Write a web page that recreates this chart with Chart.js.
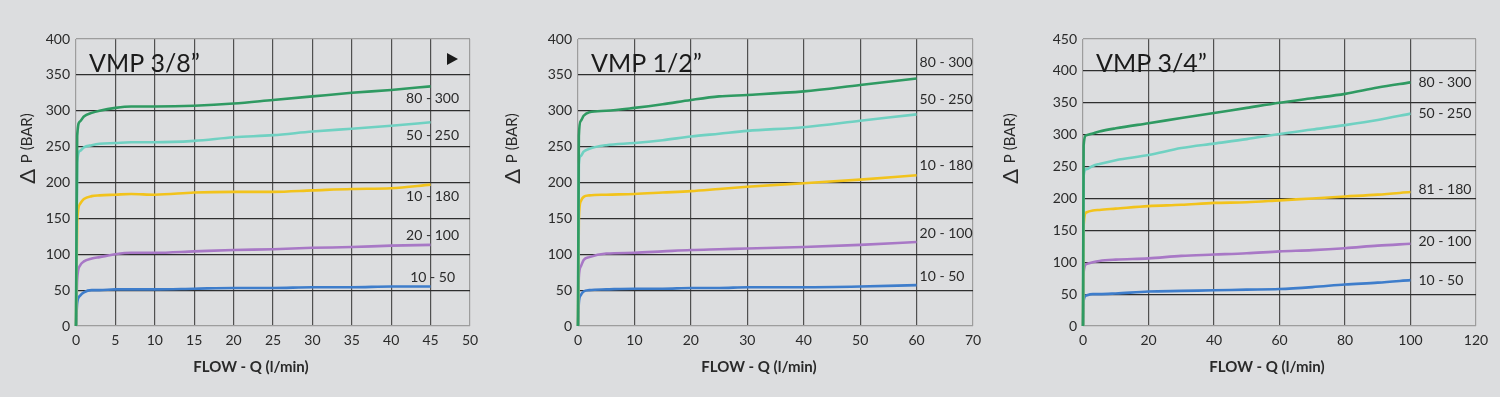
<!DOCTYPE html>
<html>
<head>
<meta charset="utf-8">
<script src="https://cdn.jsdelivr.net/npm/chart.js@4.4.1/dist/chart.umd.min.js"></script>
<style>
  html, body { margin: 0; padding: 0; background: #dcdddf; }
  #wrap { position: relative; width: 1500px; height: 397px; }
  .box { position: absolute; top: 0; width: 500px; height: 397px; }
</style>
</head>
<body>
<div id="wrap">
  <div class="box" style="left:0"><canvas id="c38"></canvas></div>
  <div class="box" style="left:500px"><canvas id="c12"></canvas></div>
  <div class="box" style="left:1000px"><canvas id="c34"></canvas></div>
</div>
<script>
// ── data ──────────────────────────────────────────────────────────────────
const seriesLabels   = ['80 - 300', '50 - 250', '10 - 180', '20 - 100', '10 - 50'];
const seriesLabels34 = ['80 - 300', '50 - 250', '81 - 180', '20 - 100', '10 - 50'];

// VMP 3/8"
const flow38   = [0, 0.15, 0.5, 1, 2, 3, 5, 7, 10, 15, 20, 25, 30, 35, 40, 45];
const v38_300  = [0, 265, 285, 292, 297, 300, 304, 306, 306, 307, 310, 315, 320, 325, 329, 334];
const v38_250  = [0, 228, 244, 249, 252, 254, 255, 256, 256, 258, 263, 266, 271, 275, 279, 284];
const v38_180  = [0, 145, 170, 177, 181, 182, 183, 184, 183, 186, 187, 187, 189, 191, 192, 197];
const v38_100  = [0, 65, 84, 90, 94, 96, 100, 102, 102, 104, 106, 107, 109, 110, 112, 113];
const v38_50   = [0, 32, 42, 47, 50, 50, 51, 51, 51, 52, 53, 53, 54, 54, 55, 55];

// VMP 1/2"
const flow12   = [0, 0.15, 0.5, 1, 2, 5, 10, 15, 20, 25, 30, 40, 50, 60];
const v12_300  = [0, 265, 286, 293, 298, 300, 304, 309, 315, 320, 322, 327, 336, 345];
const v12_250  = [0, 225, 237, 243, 247, 252, 255, 259, 264, 268, 272, 277, 286, 295];
const v12_180  = [0, 148, 174, 180, 182, 183, 184, 186, 188, 191, 194, 199, 204, 210];
const v12_100  = [0, 68, 83, 92, 96, 101, 102, 104, 106, 107, 108, 110, 113, 117];
const v12_50   = [0, 32, 43, 48, 50, 51, 52, 52, 53, 53, 54, 54, 55, 57];

// VMP 3/4"
const flow34   = [0, 0.2, 1, 3, 5, 10, 20, 30, 40, 50, 60, 70, 80, 90, 100];
const v34_300  = [0, 283, 299, 302, 305, 310, 318, 326, 334, 342, 350, 357, 364, 374, 382];
const v34_250  = [0, 236, 246, 251, 254, 260, 268, 279, 286, 293, 301, 308, 315, 323, 333];
const v34_180  = [0, 158, 178, 181, 182, 184, 188, 190, 193, 194, 197, 200, 203, 206, 210];
const v34_100  = [0, 84, 97, 100, 102, 104, 106, 110, 112, 114, 117, 119, 122, 126, 129];
const v34_50   = [0, 40, 48, 50, 50, 51, 54, 55, 56, 57, 58, 61, 65, 68, 72];

// ── style ─────────────────────────────────────────────────────────────────
const COLORS = ['#2f9a62', '#70d1c2', '#f2c31c', '#a878c6', '#3e7dcb'];
const TEXT   = '#2a2a2a';
const GRID   = '#2e2e2e';
const GRID_V = '#505050';
const EDGE   = '#9d9d9d';
const FONT   = 'Lato, "Noto Sans", sans-serif';

function toPoints(xs, ys) {
  return xs.map((x, i) => ({ x: x, y: ys[i] }));
}

// ── decorations (titles, curve labels) ────────────────────────────────────
const decoPlugin = {
  id: 'deco',
  afterDraw(chart, args, o) {
    const ctx = chart.ctx;
    const a = chart.chartArea;
    ctx.save();

    // chart title
    ctx.fillStyle = '#1b1b1b';
    ctx.font = '25px ' + FONT;
    ctx.textAlign = 'left';
    ctx.textBaseline = 'alphabetic';
    ctx.fillText(o.title, a.left + 13, 72);

    // triangle marker
    if (o.arrow) {
      ctx.beginPath();
      ctx.moveTo(a.right - 23, a.top + 14);
      ctx.lineTo(a.right - 23, a.top + 26);
      ctx.lineTo(a.right - 12, a.top + 20);
      ctx.closePath();
      ctx.fill();
    }

    // y title: Δ P (BAR)
    ctx.save();
    ctx.translate(o.yTitleX, 148.5);
    ctx.rotate(-Math.PI / 2);
    ctx.fillStyle = TEXT;
    ctx.textBaseline = 'middle';
    ctx.textAlign = 'left';
    ctx.font = '22px ' + FONT;
    const wD = ctx.measureText('Δ ').width;
    ctx.font = '15px ' + FONT;
    const rest = 'P (BAR)';
    const wR = ctx.measureText(rest).width;
    const sx = -(wD + wR) / 2;
    ctx.font = '22px ' + FONT;
    ctx.fillText('Δ', sx, 1);
    ctx.font = '15px ' + FONT;
    ctx.fillText(rest, sx + wD, 0);
    ctx.restore();

    // x title
    ctx.fillStyle = TEXT;
    ctx.font = 'bold 15px ' + FONT;
    ctx.textAlign = 'center';
    ctx.textBaseline = 'alphabetic';
    ctx.fillText('FLOW - Q (l/min)', o.xTitleX, 372);

    // curve labels, placed next to the last point of each curve
    ctx.font = '14px ' + FONT;
    ctx.textAlign = o.labelAlign;
    ctx.textBaseline = 'middle';
    chart.data.datasets.forEach((ds, i) => {
      const meta = chart.getDatasetMeta(i);
      const last = meta.data[meta.data.length - 1];
      ctx.fillText(ds.label, last.x + o.labelDx, last.y + o.labelDy[i]);
    });

    ctx.restore();
  }
};

function makeChart(id, cfg) {
  const datasets = cfg.series.map((ys, i) => ({
    label: cfg.labels[i],
    data: toPoints(cfg.flow, ys),
    borderColor: COLORS[i],
    backgroundColor: COLORS[i],
    borderWidth: 2.6,
    pointRadius: 0,
    cubicInterpolationMode: 'monotone',
    clip: 4,
  }));

  const gridColor = (max, dark) => (c) =>
    (c.tick.value === 0 || c.tick.value === max) ? EDGE : dark;

  return new Chart(document.getElementById(id), {
    type: 'line',
    data: { datasets },
    options: {
      responsive: true,
      maintainAspectRatio: false,
      animation: false,
      layout: { padding: { left: 0, top: cfg.top, right: 500 - cfg.right, bottom: 0 } },
      scales: {
        x: {
          type: 'linear',
          min: 0, max: cfg.xMax,
          afterFit: (s) => { s.height = 71; },
          border: { display: false },
          grid: { drawTicks: false, color: gridColor(cfg.xMax, GRID_V), lineWidth: 1.2 },
          ticks: { stepSize: cfg.xStep, padding: 6, color: TEXT, font: { family: FONT, size: 14 } },
        },
        y: {
          min: 0, max: cfg.yMax,
          afterFit: (s) => { s.width = cfg.left; },
          border: { display: false },
          grid: { drawTicks: false, color: gridColor(cfg.yMax, GRID), lineWidth: 1.2 },
          ticks: { stepSize: 50, padding: 6, color: TEXT, font: { family: FONT, size: 14 } },
        },
      },
      plugins: {
        legend: { display: false },
        tooltip: { enabled: false },
        deco: cfg.deco,
      },
    },
    plugins: [decoPlugin],
  });
}

makeChart('c38', {
  flow: flow38,
  series: [v38_300, v38_250, v38_180, v38_100, v38_50],
  labels: seriesLabels,
  xMax: 50, xStep: 5, yMax: 400,
  left: 76, right: 470, top: 39,
  deco: { title: 'VMP 3/8”', arrow: true, yTitleX: 27, xTitleX: 251,
          labelAlign: 'center', labelDx: 2, labelDy: [12, 13, 12, -9, -9] },
});

makeChart('c12', {
  flow: flow12,
  series: [v12_300, v12_250, v12_180, v12_100, v12_50],
  labels: seriesLabels,
  xMax: 70, xStep: 10, yMax: 400,
  left: 78, right: 473, top: 39,
  deco: { title: 'VMP 1/2”', arrow: false, yTitleX: 12, xTitleX: 259,
          labelAlign: 'left', labelDx: 3, labelDy: [-16, -15, -10, -9, -9] },
});

makeChart('c34', {
  flow: flow34,
  series: [v34_300, v34_250, v34_180, v34_100, v34_50],
  labels: seriesLabels34,
  xMax: 120, xStep: 20, yMax: 450,
  left: 83, right: 476, top: 39,
  deco: { title: 'VMP 3/4”', arrow: false, yTitleX: 10, xTitleX: 267,
          labelAlign: 'left', labelDx: 8, labelDy: [0, 0, -3, -2, 0] },
});
</script>
</body>
</html>
